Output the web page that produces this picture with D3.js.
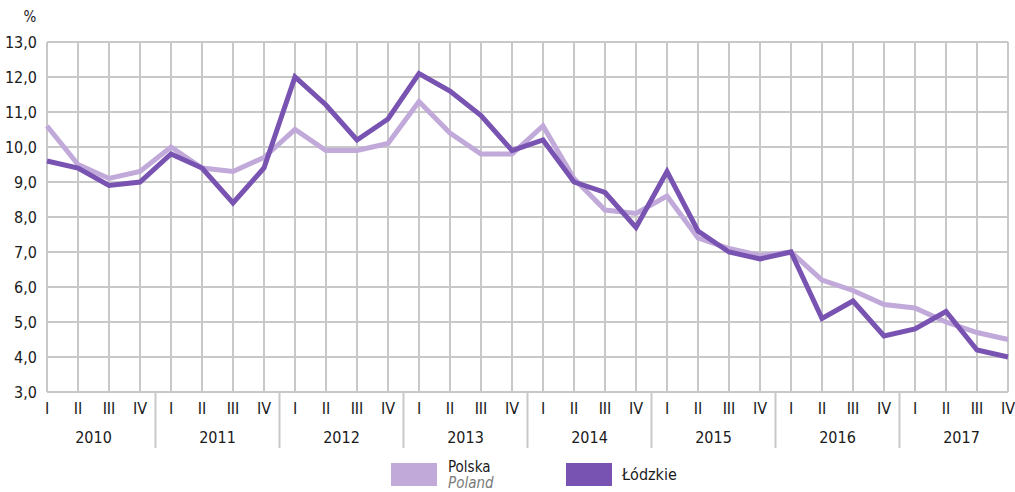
<!DOCTYPE html>
<html>
<head>
<meta charset="utf-8">
<script src="https://cdn.jsdelivr.net/npm/d3@7"></script>
<style>
  body { margin: 0; background: #fff; }
  svg text { font-family: "DejaVu Sans", sans-serif; font-stretch: condensed; fill: #1a1a1a; }
</style>
</head>
<body>
<svg id="chart" width="1015" height="492"></svg>
<script>
// data
var years = ["2010", "2011", "2012", "2013", "2014", "2015", "2016", "2017"];
var quarters = ["I", "II", "III", "IV"];
var polska = [10.6, 9.5, 9.1, 9.3, 10.0, 9.4, 9.3, 9.7, 10.5, 9.9, 9.9, 10.1,
  11.3, 10.4, 9.8, 9.8, 10.6, 9.1, 8.2, 8.1, 8.6, 7.4, 7.1, 6.9,
  7.0, 6.2, 5.9, 5.5, 5.4, 5.0, 4.7, 4.5];
var lodzkie = [9.6, 9.4, 8.9, 9.0, 9.8, 9.4, 8.4, 9.4, 12.0, 11.2, 10.2, 10.8,
  12.1, 11.6, 10.9, 9.9, 10.2, 9.0, 8.7, 7.7, 9.3, 7.6, 7.0, 6.8,
  7.0, 5.1, 5.6, 4.6, 4.8, 5.3, 4.2, 4.0];
var yTicks = [3, 4, 5, 6, 7, 8, 9, 10, 11, 12, 13];

var colPolska = "#c1a9d9", colLodz = "#7953b1", gridCol = "#c8c8c8";

var margin = { top: 42, right: 7, bottom: 100, left: 47 };
var width = 1015 - margin.left - margin.right;
var height = 492 - margin.top - margin.bottom;

var svg = d3.select("#chart")
  .append("g")
  .attr("transform", "translate(" + margin.left + "," + margin.top + ")");

var keys = polska.map(function (d, i) { return i; });
var x = d3.scalePoint().domain(keys).range([0, width]);
var y = d3.scaleLinear().domain([3, 13]).range([height, 0]);

// grid
svg.selectAll(".hgrid").data(yTicks).enter().append("line")
  .attr("x1", 0).attr("x2", width)
  .attr("y1", function (d) { return y(d); }).attr("y2", function (d) { return y(d); })
  .attr("stroke", gridCol).attr("stroke-width", 2);

svg.selectAll(".vgrid").data(keys).enter().append("line")
  .attr("x1", function (d) { return x(d); }).attr("x2", function (d) { return x(d); })
  .attr("y1", 0).attr("y2", height)
  .attr("stroke", gridCol).attr("stroke-width", 2);

// y labels
svg.selectAll(".ylab").data(yTicks).enter().append("text")
  .attr("x", -10).attr("y", function (d) { return y(d); })
  .attr("dy", "0.35em")
  .attr("text-anchor", "end")
  .style("font-size", "16px")
  .text(function (d) { return d.toFixed(1).replace(".", ","); });

svg.append("text")
  .attr("x", -17).attr("y", -20)
  .attr("text-anchor", "middle")
  .style("font-size", "15px")
  .text("%");

// quarter labels
svg.selectAll(".qlab").data(keys).enter().append("text")
  .attr("x", function (d) { return x(d); })
  .attr("y", height + 22)
  .attr("text-anchor", "middle")
  .style("font-size", "16px")
  .text(function (d) { return quarters[d % 4]; });

// year labels
svg.selectAll(".ylabel").data(years).enter().append("text")
  .attr("x", function (d, i) { return (x(i * 4) + x(i * 4 + 3)) / 2; })
  .attr("y", height + 51)
  .attr("text-anchor", "middle")
  .style("font-size", "16px")
  .text(function (d) { return d; });

// year separators
var step = x.step();
svg.selectAll(".sep").data(years.slice(1)).enter().append("line")
  .attr("x1", function (d, i) { return x((i + 1) * 4) - step / 2; })
  .attr("x2", function (d, i) { return x((i + 1) * 4) - step / 2; })
  .attr("y1", height).attr("y2", height + 56)
  .attr("stroke", gridCol).attr("stroke-width", 2);

// lines
var line = d3.line()
  .x(function (d, i) { return x(i); })
  .y(function (d) { return y(d); });

svg.append("path").datum(polska)
  .attr("fill", "none").attr("stroke", colPolska)
  .attr("stroke-width", 5).attr("stroke-linejoin", "miter")
  .attr("d", line);

svg.append("path").datum(lodzkie)
  .attr("fill", "none").attr("stroke", colLodz)
  .attr("stroke-width", 5).attr("stroke-linejoin", "miter")
  .attr("d", line);

// legend
var lg = d3.select("#chart").append("g");
lg.append("rect").attr("x", 391).attr("y", 463).attr("width", 46).attr("height", 23).attr("fill", colPolska);
lg.append("text").attr("x", 448).attr("y", 472).style("font-size", "15px").text("Polska");
lg.append("text").attr("x", 448).attr("y", 488).style("font-size", "15px")
  .style("font-style", "italic").style("fill", "#7a7a7a").text("Poland");
lg.append("rect").attr("x", 566).attr("y", 463).attr("width", 46).attr("height", 23).attr("fill", colLodz);
lg.append("text").attr("x", 622).attr("y", 480).style("font-size", "16px").text("Łódzkie");
</script>
</body>
</html>
